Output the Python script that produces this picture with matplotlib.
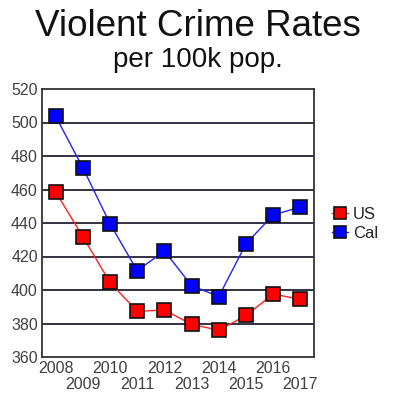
import matplotlib
matplotlib.use("Agg")
import matplotlib.pyplot as plt
from matplotlib.lines import Line2D

years = [2008, 2009, 2010, 2011, 2012, 2013, 2014, 2015, 2016, 2017]
us = [458.6, 431.9, 404.5, 387.3, 388.0, 379.5, 376.0, 384.8, 397.6, 394.4]
cal = [503.8, 473.0, 439.6, 411.5, 423.3, 402.6, 396.1, 427.6, 444.8, 449.5]
yticks = [360, 380, 400, 420, 440, 460, 480, 500, 520]

plt.rcParams['font.family'] = ['Liberation Sans', 'DejaVu Sans']
fig = plt.figure(figsize=(3.96, 4.01), dpi=100)
ax = fig.add_axes([42/396, 1-357/401, (314-42)/396, (357-89)/401])

for yv in yticks[1:-1]:
    ax.axhline(yv, color='#222233', lw=1.3, zorder=1)

ax.plot(years, us, color='#ff2020', lw=1, marker='s', ms=10,
        mfc='#ff0000', mec='#111111', mew=1.2, zorder=3, label='US')
ax.plot(years, cal, color='#2020ff', lw=1, marker='s', ms=10,
        mfc='#0000ff', mec='#111111', mew=1.2, zorder=3, label='Cal')

ax.set_xlim(2007.5, 2017.5)
ax.set_ylim(360, 520)
ax.set_yticks(yticks)
ax.set_yticklabels([str(v) for v in yticks], fontsize=11.5, color='#404040')
ax.set_xticks(years)
ax.set_xticklabels([str(y) for y in years], fontsize=11.5, color='#404040')
ax.tick_params(length=0, pad=3)
for i, t in enumerate(ax.xaxis.get_major_ticks()):
    if i % 2 == 1:
        t.set_pad(14.5)
for s in ax.spines.values():
    s.set_color('#333333')
    s.set_linewidth(1.3)

fig.text(0.5, 1-27/401, 'Violent Crime Rates', ha='center', va='center',
         fontsize=26.5, color='#111111')
fig.text(0.5, 1-60/401, 'per 100k pop.', ha='center', va='center',
         fontsize=20, color='#111111')

handles = [Line2D([], [], color='#ff2020', lw=1, marker='s', ms=8, mfc='#ff0000', mec='#111111', mew=1.2),
           Line2D([], [], color='#2020ff', lw=1, marker='s', ms=8, mfc='#0000ff', mec='#111111', mew=1.2)]
fig.legend(handles, ['US', 'Cal'], loc='center left', bbox_to_anchor=(332/396, 1-224/401),
           frameon=False, fontsize=12, handlelength=0.96, handletextpad=0.3,
           labelspacing=0.2, borderpad=0, borderaxespad=0, labelcolor='#222222')

fig.savefig('out.png', dpi=100)
